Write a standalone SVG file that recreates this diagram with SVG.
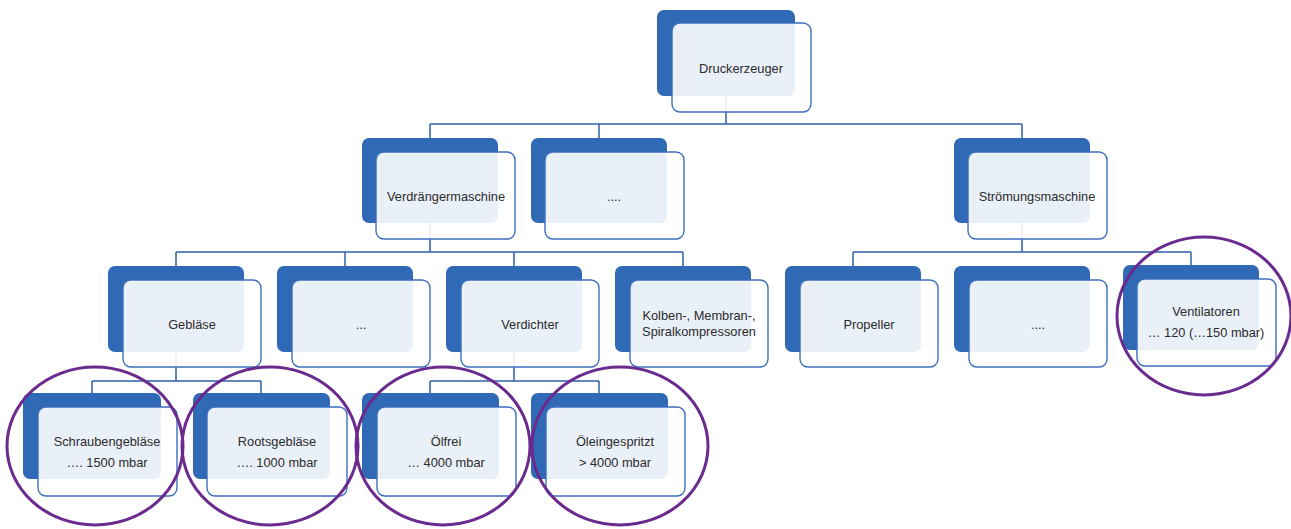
<svg xmlns="http://www.w3.org/2000/svg" width="1291" height="529" viewBox="0 0 1291 529">
  <style>
    .back { fill: #3069b5; }
    .front { fill: #ffffff; fill-opacity: 0.9; stroke: #3d6fbf; stroke-width: 1.4; }
    .lbl { font-family: "Liberation Sans", Arial, sans-serif; font-size: 12.8px; fill: #2b2b2b; text-anchor: middle; dominant-baseline: central; }
    .conn { fill: none; stroke: #2f5fa8; stroke-width: 1.5; }
    .mark { fill: none; stroke: #6a2a8e; stroke-width: 3; }
  </style>
  <rect width="1291" height="529" fill="#ffffff"/>

  <!-- connectors -->
  <g id="connectors" class="conn">
    <path d="M726 96 V124 M430 124 H1022 M430 124 V138 M599 124 V138 M1022 124 V138"/>
    <path d="M430 223 V252 M176 252 H683 M176 252 V266 M345 252 V266 M514 252 V266 M683 252 V266"/>
    <path d="M1022 223 V252 M853 252 H1191 M853 252 V266 M1191 252 V266"/>
    <path d="M176 352 V381 M92 381 H261 M92 381 V393 M261 381 V393"/>
    <path d="M514 352 V381 M430 381 H599 M430 381 V393 M599 381 V393"/>
  </g>

  <!-- level 0 -->
  <g id="druckerzeuger">
    <rect class="back" x="657" y="10" width="138" height="86" rx="7"/>
    <rect class="front" x="672" y="23" width="139" height="89" rx="8"/>
    <text class="lbl" x="741" y="68">Druckerzeuger</text>
  </g>

  <!-- level 1 -->
  <g id="verdraengermaschine">
    <rect class="back" x="362" y="138" width="136" height="85" rx="7"/>
    <rect class="front" x="376" y="152" width="139" height="87" rx="8"/>
    <text class="lbl" x="446" y="196">Verdrängermaschine</text>
  </g>
  <g id="weitere-1">
    <rect class="back" x="531" y="138" width="136" height="85" rx="7"/>
    <rect class="front" x="545" y="152" width="139" height="87" rx="8"/>
    <text class="lbl" x="614" y="196">....</text>
  </g>
  <g id="stroemungsmaschine">
    <rect class="back" x="954" y="138" width="136" height="85" rx="7"/>
    <rect class="front" x="968" y="152" width="139" height="87" rx="8"/>
    <text class="lbl" x="1037" y="196">Strömungsmaschine</text>
  </g>

  <!-- level 2 -->
  <g id="geblaese">
    <rect class="back" x="108" y="266" width="136" height="86" rx="7"/>
    <rect class="front" x="123" y="280" width="138" height="87" rx="8"/>
    <text class="lbl" x="192" y="324">Gebläse</text>
  </g>
  <g id="weitere-2">
    <rect class="back" x="277" y="266" width="136" height="86" rx="7"/>
    <rect class="front" x="292" y="280" width="138" height="87" rx="8"/>
    <text class="lbl" x="361" y="324">...</text>
  </g>
  <g id="verdichter">
    <rect class="back" x="446" y="266" width="136" height="86" rx="7"/>
    <rect class="front" x="461" y="280" width="138" height="87" rx="8"/>
    <text class="lbl" x="530" y="324">Verdichter</text>
  </g>
  <g id="kolbenkompressoren">
    <rect class="back" x="615" y="266" width="136" height="86" rx="7"/>
    <rect class="front" x="630" y="280" width="138" height="87" rx="8"/>
    <text class="lbl" x="699" y="315">Kolben-, Membran-,</text>
    <text class="lbl" x="699" y="331">Spiralkompressoren</text>
  </g>
  <g id="propeller">
    <rect class="back" x="785" y="266" width="136" height="86" rx="7"/>
    <rect class="front" x="800" y="280" width="138" height="87" rx="8"/>
    <text class="lbl" x="869" y="324">Propeller</text>
  </g>
  <g id="weitere-3">
    <rect class="back" x="954" y="266" width="136" height="86" rx="7"/>
    <rect class="front" x="969" y="280" width="138" height="87" rx="8"/>
    <text class="lbl" x="1038" y="324">....</text>
  </g>
  <g id="ventilatoren">
    <rect class="back" x="1123" y="265" width="136" height="85" rx="7"/>
    <rect class="front" x="1137" y="279" width="139" height="87" rx="8"/>
    <text class="lbl" x="1206" y="311">Ventilatoren</text>
    <text class="lbl" x="1206" y="332">… 120 (…150 mbar)</text>
  </g>

  <!-- level 3 -->
  <g id="schraubengeblaese">
    <rect class="back" x="23" y="393" width="138" height="86" rx="7"/>
    <rect class="front" x="38" y="407" width="139" height="89" rx="8"/>
    <text class="lbl" x="107" y="441">Schraubengebläse</text>
    <text class="lbl" x="107" y="462">…. 1500 mbar</text>
  </g>
  <g id="rootsgeblaese">
    <rect class="back" x="193" y="393" width="137" height="86" rx="7"/>
    <rect class="front" x="207" y="407" width="140" height="89" rx="8"/>
    <text class="lbl" x="277" y="441">Rootsgebläse</text>
    <text class="lbl" x="277" y="462">…. 1000 mbar</text>
  </g>
  <g id="oelfrei">
    <rect class="back" x="362" y="393" width="137" height="86" rx="7"/>
    <rect class="front" x="377" y="407" width="139" height="89" rx="8"/>
    <text class="lbl" x="446" y="441">Ölfrei</text>
    <text class="lbl" x="446" y="462">… 4000 mbar</text>
  </g>
  <g id="oeleingespritzt">
    <rect class="back" x="531" y="393" width="137" height="86" rx="7"/>
    <rect class="front" x="546" y="407" width="139" height="89" rx="8"/>
    <text class="lbl" x="615" y="441">Öleingespritzt</text>
    <text class="lbl" x="615" y="462">&gt; 4000 mbar</text>
  </g>

  <!-- highlight rings -->
  <g id="highlights" class="mark">
    <ellipse cx="95" cy="446" rx="88" ry="79"/>
    <ellipse cx="270" cy="446" rx="88" ry="79"/>
    <ellipse cx="443" cy="446" rx="87" ry="79"/>
    <ellipse cx="620" cy="446" rx="88" ry="79"/>
    <ellipse cx="1204" cy="316" rx="87" ry="79"/>
  </g>
</svg>
